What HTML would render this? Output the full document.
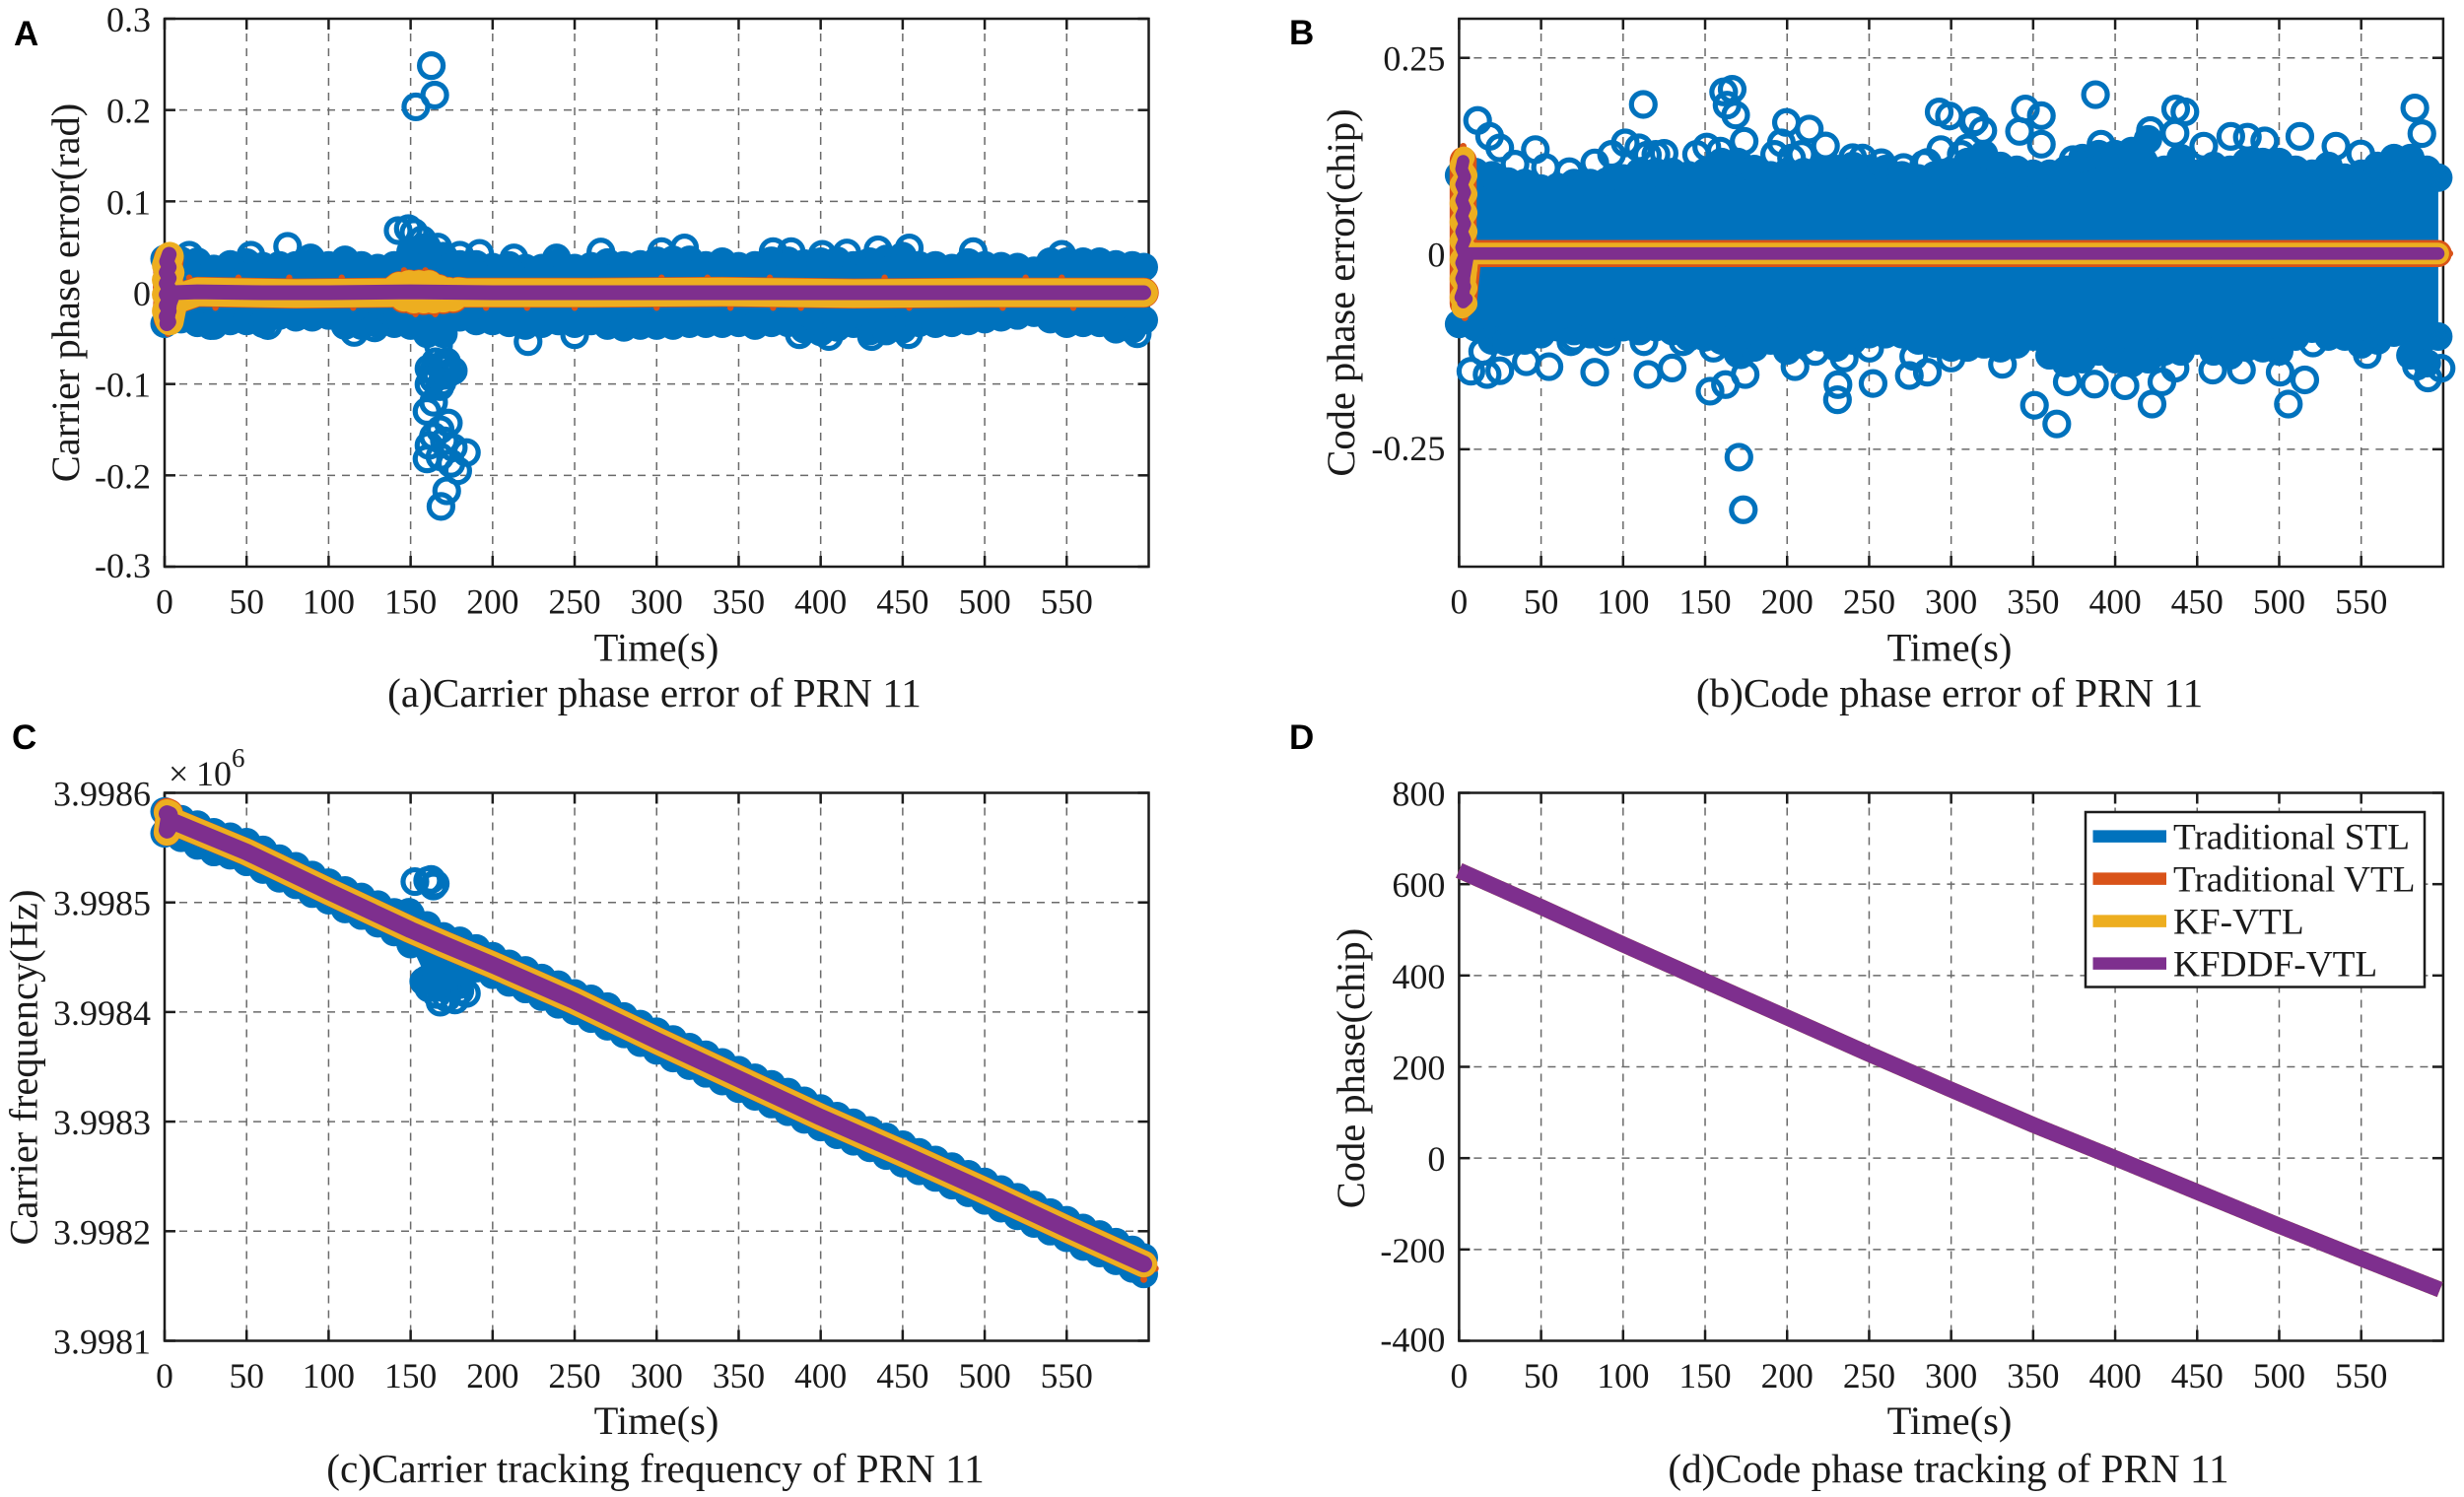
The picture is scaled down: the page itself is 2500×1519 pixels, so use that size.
<!DOCTYPE html>
<html lang="en">
<head>
<meta charset="utf-8">
<title>PRN 11 tracking results</title>
<style>
html,body{margin:0;padding:0;background:#fff;}
#figure{display:block;width:2500px;height:1519px;background:#fff;}
text{font-family:"Liberation Serif",serif;fill:#1a1a1a;}
.tick-x{font-size:35.5px;}
.tick-y{font-size:36px;}
.label{font-size:40.5px;text-anchor:middle;}
.caption{font-size:41.2px;text-anchor:middle;}
.letter{font-family:"Liberation Sans",sans-serif;font-weight:bold;font-size:35px;fill:#000;}
.legend-text{font-size:37.3px;}
</style>
</head>
<body>
<svg id="figure" xmlns="http://www.w3.org/2000/svg" width="2500" height="1519" viewBox="0 0 2500 1519">
  <g id="panel-a"></g>
  <g id="panel-b"></g>
  <g id="panel-c"></g>
  <g id="panel-d"></g>

  <text class="letter" x="14" y="46">A</text>
  <text class="letter" x="1308" y="45">B</text>
  <text class="letter" x="12" y="760">C</text>
  <text class="letter" x="1308" y="760">D</text>

  <text class="label" transform="translate(80 297) rotate(-90)">Carrier phase error(rad)</text>
  <text class="label" transform="translate(1374 297) rotate(-90)">Code phase error(chip)</text>
  <text class="label" transform="translate(37.5 1083) rotate(-90)">Carrier frequency(Hz)</text>
  <text class="label" transform="translate(1384 1084) rotate(-90)">Code phase(chip)</text>

  <text class="label" x="666" y="670.5">Time(s)</text>
  <text class="label" x="1978" y="670.5">Time(s)</text>
  <text class="label" x="666" y="1455">Time(s)</text>
  <text class="label" x="1978" y="1455">Time(s)</text>

  <text class="caption" x="664" y="717">(a)Carrier phase error of PRN 11</text>
  <text class="caption" x="1978" y="717">(b)Code phase error of PRN 11</text>
  <text class="caption" x="665" y="1504">(c)Carrier tracking frequency of PRN 11</text>
  <text class="caption" x="1977" y="1504">(d)Code phase tracking of PRN 11</text>

  <g>
    <text x="171" y="797" font-size="36">×</text>
    <text x="199" y="797" font-size="36">10</text>
    <text x="235" y="778" font-size="27">6</text>
  </g>

  <g id="legend"></g>
</svg>

<script>
/* ---------- shared axis data ---------- */
const timeTicks = [0,50,100,150,200,250,300,350,400,450,500,550];
const yTicksA = [0.3,0.2,0.1,0,-0.1,-0.2,-0.3];
const yTickLabelsA = ['0.3','0.2','0.1','0','-0.1','-0.2','-0.3'];
const yTicksB = [0.25,0,-0.25];
const yTickLabelsB = ['0.25','0','-0.25'];
const yTicksC = [3.9986,3.9985,3.9984,3.9983,3.9982,3.9981];
const yTickLabelsC = ['3.9986','3.9985','3.9984','3.9983','3.9982','3.9981'];
const yTicksD = [800,600,400,200,0,-200,-400];
const yTickLabelsD = ['800','600','400','200','0','-200','-400'];
const legendLabels = ['Traditional STL','Traditional VTL','KF-VTL','KFDDF-VTL'];

/* ---------- dense Traditional STL cloud: envelope ---------- */
const stlTimes = [0,10,20,30,40,50,60,70,80,90,100,110,120,130,140,150,160,170,180,190,200,210,220,230,240,250,260,270,280,290,300,310,320,330,340,350,360,370,380,390,400,410,420,430,440,450,460,470,480,490,500,510,520,530,540,550,560,570,580,590,597];

const stlUpperA = [.037,.035,.034,.026,.031,.033,.029,.030,.030,.033,.030,.036,.030,.027,.030,.045,.050,.040,.031,.031,.028,.030,.027,.027,.033,.027,.029,.033,.030,.031,.035,.036,.036,.030,.034,.029,.030,.035,.035,.032,.034,.035,.030,.034,.037,.040,.030,.030,.027,.033,.030,.029,.028,.024,.034,.034,.034,.034,.031,.030,.028];
const stlLowerA = [-.034,-.029,-.033,-.036,-.031,-.031,-.034,-.025,-.027,-.027,-.025,-.036,-.036,-.034,-.034,-.036,-.045,-.045,-.027,-.031,-.031,-.033,-.036,-.034,-.031,-.034,-.031,-.036,-.038,-.036,-.036,-.036,-.034,-.034,-.034,-.033,-.036,-.033,-.033,-.040,-.043,-.038,-.034,-.042,-.042,-.040,-.033,-.034,-.033,-.031,-.029,-.027,-.025,-.022,-.029,-.034,-.033,-.033,-.040,-.040,-.030];

const stlUpperB = [.100,.104,.100,.092,.090,.083,.085,.090,.090,.092,.096,.104,.104,.104,.100,.104,.117,.117,.108,.100,.104,.104,.108,.108,.112,.108,.108,.100,.096,.100,.104,.117,.127,.112,.107,.102,.102,.107,.122,.127,.127,.131,.146,.107,.122,.102,.112,.107,.117,.117,.117,.107,.102,.112,.097,.102,.112,.122,.122,.107,.097];
const stlLowerB = [-.090,-.094,-.111,-.107,-.111,-.103,-.094,-.099,-.103,-.103,-.094,-.099,-.094,-.099,-.107,-.107,-.111,-.128,-.120,-.111,-.124,-.111,-.107,-.120,-.111,-.103,-.103,-.103,-.111,-.115,-.120,-.120,-.116,-.121,-.116,-.106,-.130,-.140,-.135,-.125,-.135,-.140,-.135,-.125,-.125,-.111,-.125,-.130,-.120,-.121,-.125,-.106,-.096,-.106,-.106,-.116,-.111,-.101,-.130,-.140,-.106];

const stlUpperC = [3.998583,3.998576,3.998571,3.998564,3.998560,3.998555,3.998548,3.998540,3.998533,3.998525,3.998518,3.998511,3.998505,3.998498,3.998491,3.998489,3.998479,3.998469,3.998465,3.998458,3.998451,3.998444,3.998438,3.998431,3.998425,3.998417,3.998412,3.998405,3.998396,3.998389,3.998382,3.998375,3.998368,3.998361,3.998354,3.998347,3.998340,3.998334,3.998327,3.998319,3.998312,3.998305,3.998299,3.998292,3.998286,3.998279,3.998272,3.998265,3.998259,3.998252,3.998245,3.998238,3.998231,3.998224,3.998217,3.998210,3.998203,3.998197,3.998190,3.998183,3.998176];
const stlLowerC = [3.998563,3.998559,3.998552,3.998546,3.998543,3.998537,3.998530,3.998522,3.998516,3.998508,3.998502,3.998494,3.998488,3.998481,3.998473,3.998462,3.998430,3.998422,3.998425,3.998440,3.998434,3.998427,3.998421,3.998414,3.998407,3.998401,3.998394,3.998387,3.998380,3.998372,3.998365,3.998358,3.998351,3.998344,3.998337,3.998330,3.998323,3.998316,3.998309,3.998302,3.998295,3.998288,3.998282,3.998276,3.998269,3.998262,3.998255,3.998249,3.998242,3.998235,3.998228,3.998221,3.998214,3.998207,3.998200,3.998194,3.998186,3.998180,3.998173,3.998166,3.998161];

/* ---------- individually visible Traditional STL rings ---------- */
const ringTimesA = [162.6,164.7,153.2,148.6,142.4,152,157,166.6,180,192,75,15,52.6,89,213,239,266,303,317,371,382,401,416,435,454,493,547,
  115.6,128,221.6,250,63,28,387,405,431,453.6,593,
  167,168,163.9,170.6,161.2,167.9,173.3,165.2,171.9,161.2,176,169.2,166,170,164,172,
  160,164,173,168,163.9,170.6,161.2,176,184,160,167.9,174.6,178.7,172,168.5];
const ringValuesA = [.2486,.2164,.2035,.0702,.068,.066,.058,.05,.041,.043,.0507,.041,.041,.038,.038,.038,.0445,.045,.049,.045,.045,.042,.0435,.047,.049,.045,.042,
  -.0435,-.0385,-.0536,-.046,-.036,-.036,-.046,-.048,-.048,-.046,-.045,
  -.058,-.081,-.0855,-.0905,-.1003,-.1028,-.088,-.0756,-.0756,-.083,-.0855,-.0979,-.09,-.078,-.095,-.082,
  -.13,-.12,-.1427,-.15,-.1573,-.1622,-.1672,-.1696,-.175,-.182,-.1796,-.187,-.195,-.217,-.234];

const ringTimesB = [11.3,18.6,24.8,46.5,112.3,161.3,166.5,163.4,168.6,199.6,213.5,196.5,202.7,101.3,114.8,125,151,173.8,82.7,67.2,223.4,246,257.5,292.7,299,313.4,293.7,310,285.5,
  34.1,52.7,93,109.6,120,144.8,159.3,192.4,208.9,240,271,283.4,306.2,
  7.2,17.1,24.8,41,54.8,82.7,115.2,129.9,153,162.4,174.4,204.8,231,230.7,252.4,274.5,285.5,170.6,173.3,70.3,
  14.4,28.9,68.2,90,112.7,136.5,155.1,171.7,217.2,234.8,250.3,277.2,300,
  388,345.3,355,341.7,355,436.9,442.5,436.5,582.7,587,512.6,470.5,480.6,491.2,534.6,549.7,454,421.5,391.4,374.4,319.3,314.3,
  350.8,364.4,505.6,515.6,422.5,406,370.8,387.4,428.5,436.5,459.5,477,500.6,590.7,583.7,598.7,331.3,520.6,553.7];
const ringValuesB = [.17,.1498,.135,.1328,.1905,.2065,.2098,.1896,.177,.1675,.1591,.1414,.122,.1414,.1258,.128,.1361,.1435,.1158,.1045,.1374,.122,.116,.1809,.1757,.1676,.1328,.135,.1163,
  .1141,.1099,.1267,.1351,.1267,.1267,.1309,.1267,.1267,.1225,.1099,.1141,.1267,
  -.1503,-.1545,-.1497,-.1382,-.1445,-.1516,-.1545,-.1462,-.1758,-.1674,-.1545,-.1445,-.1674,-.1868,-.166,-.1558,-.1516,-.2602,-.3273,-.108,
  -.1251,-.1126,-.1126,-.1126,-.1126,-.1126,-.1209,-.1293,-.1251,-.1335,-.1209,-.1314,-.1335,
  .203,.1846,.1761,.1561,.1397,.1846,.181,.1537,.186,.1532,.1497,.1497,.1487,.1439,.1372,.1273,.1372,.1571,.1397,.12,.1571,.1696,
  -.1938,-.2177,-.1923,-.1614,-.1923,-.1689,-.1639,-.1668,-.1639,-.1465,-.1489,-.1489,-.1515,-.1589,-.144,-.1465,-.1415,-.1142,-.129];

const ringTimesC = [152.6,162.5,163.9,160.4,165,149,184,168,177,161,172,166,180,158];
const ringValuesC = [3.998519,3.998521,3.998515,3.99852,3.998517,3.998491,3.998417,3.998409,3.998411,3.998422,3.998413,3.998416,3.998419,3.998428];

/* ---------- Traditional VTL, KF-VTL and KFDDF-VTL series ---------- */
const vtlTimesA = [2.6,2,2.4,2,2.4,2,2.4,5.5,20,80,138,143,146,149,152,155,158,161,164,167,170,173,176,179,184,260,340,420,500,597];
const vtlValuesA = [.038,.028,.018,.006,-.006,-.018,-.028,-.008,.001,-.001,0,.007,-.006,.009,-.008,.009,-.008,.009,-.008,.004,-.007,.001,-.006,.001,0,0,.001,-.001,0,0];
const kfTimesA = [3,1,3.4,1,3.4,1,3.4,1,3,5.5,20,80,138,143,146,149,152,155,158,161,164,167,170,173,176,179,184,260,340,420,500,597];
const kfValuesA = [.040,.030,.022,.014,.006,-.002,-.010,-.020,-.031,-.008,.001,-.001,0,.007,-.005,.009,-.007,.009,-.007,.009,-.007,.004,-.006,.001,-.005,.001,0,0,.001,-.001,0,0];
const kfddfTimesA = [2.8,1.2,2.8,1,2.8,1,2.8,1,2.8,1,2.8,1,2.6,1.4,3,5.5,20,60,100,150,200,260,340,420,500,597];
const kfddfValuesA = [.042,.034,.028,.022,.016,.010,.004,-.002,-.008,-.014,-.020,-.026,-.032,-.034,-.012,0,.001,0,0,.001,0,0,0,0,0,0];
const vtlDotTimesA = [15,45,76,108,146,159,303,331,369,439,525,547,31,115,153,165,196,221,250,300,345,371,388,454,511,554,604,-3,7,-3,7,0,4,2];
const vtlDotValuesA = [.0165,.0165,.0165,.0165,.0245,.0245,.0165,.0165,.0165,.0165,.0165,.0165,-.0165,-.0165,-.0235,-.0235,-.0165,-.0165,-.0165,-.0165,-.0165,-.0165,-.0165,-.0165,-.0165,-.0165,0,.02,.018,-.02,-.025,.05,.048,-.045];

const vtlTimesB = [2.5,2.5,5.5,100,300,500,597];
const vtlValuesB = [.119,-.064,0,0,0,0,0];
const kfTimesB = [3,0.8,4.6,0.8,4.6,0.8,4.6,0.8,4.6,0.8,4.6,0.8,4.6,0.8,4.6,0.8,4.6,2,5.5,100,300,500,597];
const kfValuesB = [.123,.112,.100,.088,.076,.064,.052,.040,.028,.016,.004,-.008,-.020,-.032,-.044,-.056,-.064,-.069,0,0,0,0,0];
const kfddfTimesB = [2.5,1.5,3.5,1.5,3.5,1.5,3.5,1.5,3.5,1.5,3.5,1.5,3.5,1.5,3.5,1.5,3.5,1,4.5,2.5,3,5.5,100,300,500,597];
const kfddfValuesB = [.118,.108,.098,.088,.078,.068,.058,.048,.038,.028,.018,.008,-.002,-.012,-.022,-.032,-.042,-.056,-.058,-.062,-.03,0,0,0,0,0];
const vtlDotTimesB = [604,-0.5,6.5,-1,7,-0.5,7,-1,7,-0.5,6.5,2.5,3.5,1];
const vtlDotValuesB = [0,.1,.085,.06,.04,.02,.07,-.02,-.045,-.065,-.06,.137,-.082,.128];

const carrierTimes = [1.5,3,1.5,5,50,100,150,170,200,250,300,350,400,450,500,550,597];
const vtlFreq = [3.998583,3.998582,3.998564,3.998574,3.998546,3.99851,3.998475,3.998462,3.998443,3.99841,3.998374,3.998339,3.998304,3.998271,3.998237,3.998202,3.99817];
const kfFreq = [3.998582,3.998581,3.998564,3.998574,3.998546,3.99851,3.998475,3.998462,3.998443,3.99841,3.998374,3.998339,3.998304,3.998271,3.998237,3.998202,3.99817];
const kfddfFreq = [3.998581,3.99858,3.998566,3.998574,3.998546,3.99851,3.998475,3.998462,3.998443,3.99841,3.998374,3.998339,3.998304,3.998271,3.998237,3.998202,3.99817];
const vtlDotTimesC = [604,597,5,0,-4];
const vtlDotValuesC = [3.998166,3.998156,3.99859,3.998556,3.998575];

const codeTimes = [0,50,100,150,200,250,300,350,400,450,500,550,598];
const codePhaseStl = [630,550,468,388,308,228,150,73,0,-74,-148,-220,-288];
const codePhaseVtl = [630,550,468,388,308,228,150,73,0,-74,-148,-220,-288];
const codePhaseKf = [630,550,468,388,308,228,150,73,0,-74,-148,-220,-288];
const codePhaseKfddf = [630,550,468,388,308,228,150,73,0,-74,-148,-220,-288];

/* ---------- styling and layout ---------- */
const COLOR_STL = '#0072BD';
const COLOR_VTL = '#D95319';
const COLOR_KF = '#EDAE20';
const COLOR_KFDDF = '#7E2F8E';
const X_MAX = 600;
const SVGNS = 'http://www.w3.org/2000/svg';

function makeAxes(left, top, width, height, yMin, yMax) {
  return {
    left, top, width, height, yMin, yMax,
    x: function (t) { return left + (t / X_MAX) * width; },
    y: function (v) { return top + (yMax - v) / (yMax - yMin) * height; }
  };
}
const axesA = makeAxes(167, 19, 998.5, 556, -0.3, 0.3);
const axesB = makeAxes(1480.4, 19, 998.5, 556, -0.4, 0.3);
const axesC = makeAxes(167, 804.5, 998.5, 556, 3.9981, 3.9986);
const axesD = makeAxes(1480.4, 804.5, 998.5, 556, -400, 800);

function node(tag, parent, attrs) {
  const el = document.createElementNS(SVGNS, tag);
  for (const k in attrs) el.setAttribute(k, attrs[k]);
  parent.appendChild(el);
  return el;
}

function drawAxes(parent, ax, yTicks, yLabels) {
  const grid = node('g', parent, {stroke:'#6a6a6a','stroke-width':1.5,'stroke-dasharray':'8 7',fill:'none'});
  
  
  timeTicks.forEach(function (t) {
    if (t === 0) return;
    const l = node('line', grid, {x1:ax.x(t),x2:ax.x(t),y1:ax.top,y2:ax.top+ax.height});
    
    
  });
  yTicks.forEach(function (v) {
    if (v === ax.yMin || v === ax.yMax) return;
    const l = node('line', grid, {x1:ax.left,x2:ax.left+ax.width,y1:ax.y(v),y2:ax.y(v)});
    
    
  });

  const frame = node('rect', parent, {x:ax.left,y:ax.top,width:ax.width,height:ax.height,fill:'none',stroke:'#1c1c1c','stroke-width':2.5});
  
  

  const ticks = node('g', parent, {stroke:'#1c1c1c','stroke-width':2.5});
  
  
  timeTicks.forEach(function (t) {
    const px = ax.x(t);
    node('line', ticks, {x1:px,x2:px,y1:ax.top+ax.height,y2:ax.top+ax.height-11});
    node('line', ticks, {x1:px,x2:px,y1:ax.top,y2:ax.top+11});
    const label = node('text', parent, {x:px,y:ax.top+ax.height+47.6,'text-anchor':'middle','class':'tick-x'});
    
    
    label.textContent = String(t);
  });
  yTicks.forEach(function (v, i) {
    const py = ax.y(v);
    node('line', ticks, {x1:ax.left,x2:ax.left+11,y1:py,y2:py});
    node('line', ticks, {x1:ax.left+ax.width,x2:ax.left+ax.width-11,y1:py,y2:py});
    const label = node('text', parent, {x:ax.left-14,y:py+(i===yTicks.length-1&&v<0?11:13),'text-anchor':'end','class':'tick-y'});
    
    
    label.textContent = yLabels[i];
  });
}

function drawStlCloud(parent, ax, times, upper, lower, ringTimes, ringValues) {
  const layer = node('g', parent, {});
  
  
  const top = times.map(function (t, i) { return ax.x(t) + ',' + ax.y(upper[i]); });
  const bottom = times.map(function (t, i) { return ax.x(t) + ',' + ax.y(lower[i]); }).reverse();
  const band = node('polygon', layer, {points:top.concat(bottom).join(' '),fill:COLOR_STL});
  
  
  times.forEach(function (t, i) {
    [upper[i], lower[i]].forEach(function (v) {
      const c = node('circle', layer, {cx:ax.x(t),cy:ax.y(v),r:14.5,fill:COLOR_STL});
      
      
    });
  });
  ringTimes.forEach(function (t, i) {
    const c = node('circle', layer, {cx:ax.x(t),cy:ax.y(ringValues[i]),r:12,fill:'none',stroke:COLOR_STL,'stroke-width':5.2});
    
    
  });
}

function drawLine(parent, ax, times, values, color, width, name) {
  const pts = times.map(function (t, i) { return ax.x(t) + ',' + ax.y(values[i]); }).join(' ');
  const line = node('polyline', parent, {points:pts,fill:'none',stroke:color,'stroke-width':width,'stroke-linejoin':'round','stroke-linecap':'round'});
  
  
  return line;
}

function drawDots(parent, ax, times, values, color, r) {
  times.forEach(function (t, i) {
    const c = node('circle', parent, {cx:ax.x(t),cy:ax.y(values[i]),r:r,fill:color});
    
    
  });
}

/* panel A */
const gA = document.getElementById('panel-a');
drawAxes(gA, axesA, yTicksA, yTickLabelsA);
drawStlCloud(gA, axesA, stlTimes, stlUpperA, stlLowerA, ringTimesA, ringValuesA);
drawLine(gA, axesA, vtlTimesA, vtlValuesA, COLOR_VTL, 30.5, 'traditional-vtl-line');
drawDots(gA, axesA, vtlDotTimesA, vtlDotValuesA, COLOR_VTL, 3.2);
drawLine(gA, axesA, kfTimesA, kfValuesA, COLOR_KF, 29, 'kf-vtl-line');
drawLine(gA, axesA, kfddfTimesA, kfddfValuesA, COLOR_KFDDF, 15, 'kfddf-vtl-line');

/* panel B */
const gB = document.getElementById('panel-b');
drawAxes(gB, axesB, yTicksB, yTickLabelsB);
drawStlCloud(gB, axesB, stlTimes, stlUpperB, stlLowerB, ringTimesB, ringValuesB);
drawLine(gB, axesB, vtlTimesB, vtlValuesB, COLOR_VTL, 27.5, 'traditional-vtl-line');
drawDots(gB, axesB, vtlDotTimesB, vtlDotValuesB, COLOR_VTL, 3.5);
drawLine(gB, axesB, kfTimesB, kfValuesB, COLOR_KF, 22, 'kf-vtl-line');
drawLine(gB, axesB, kfddfTimesB, kfddfValuesB, COLOR_KFDDF, 12.7, 'kfddf-vtl-line');

/* panel C */
const gC = document.getElementById('panel-c');
drawAxes(gC, axesC, yTicksC, yTickLabelsC);
drawStlCloud(gC, axesC, stlTimes, stlUpperC, stlLowerC, ringTimesC, ringValuesC);
drawLine(gC, axesC, carrierTimes, vtlFreq, COLOR_VTL, 27.5, 'traditional-vtl-line');
drawDots(gC, axesC, vtlDotTimesC, vtlDotValuesC, COLOR_VTL, 3.5);
drawLine(gC, axesC, carrierTimes, kfFreq, COLOR_KF, 27, 'kf-vtl-line');
drawLine(gC, axesC, carrierTimes, kfddfFreq, COLOR_KFDDF, 17, 'kfddf-vtl-line');

/* panel D */
const gD = document.getElementById('panel-d');
drawAxes(gD, axesD, yTicksD, yTickLabelsD);
drawLine(gD, axesD, codeTimes, codePhaseStl, COLOR_STL, 16, 'traditional-stl-line').setAttribute('stroke-linecap', 'butt');
drawLine(gD, axesD, codeTimes, codePhaseVtl, COLOR_VTL, 16, 'traditional-vtl-line').setAttribute('stroke-linecap', 'butt');
drawLine(gD, axesD, codeTimes, codePhaseKf, COLOR_KF, 16, 'kf-vtl-line').setAttribute('stroke-linecap', 'butt');
drawLine(gD, axesD, codeTimes, codePhaseKfddf, COLOR_KFDDF, 16, 'kfddf-vtl-line').setAttribute('stroke-linecap', 'butt');

/* legend */
const legendGroup = document.getElementById('legend');
const legendBox = node('rect', legendGroup, {x:2116,y:824,width:344,height:177.5,fill:'#fff',stroke:'#1c1c1c','stroke-width':2.5});


const legendColors = [COLOR_STL, COLOR_VTL, COLOR_KF, COLOR_KFDDF];
legendLabels.forEach(function (name, i) {
  const rowY = 848.6 + i * 43;
  const swatch = node('line', legendGroup, {x1:2123.5,x2:2198,y1:rowY,y2:rowY,stroke:legendColors[i],'stroke-width':12.5});
  
  
  const label = node('text', legendGroup, {x:2205,y:rowY+13,'class':'legend-text'});
  
  
  label.textContent = name;
});
</script>
</body>
</html>
